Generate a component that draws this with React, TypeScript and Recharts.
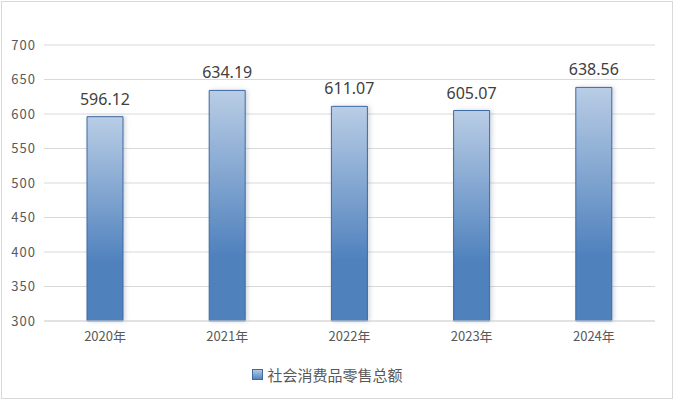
import { Bar, BarChart, CartesianGrid, LabelList, Legend, XAxis, YAxis } from "recharts";

const years = ["2020年", "2021年", "2022年", "2023年", "2024年"];
const retailSales = [596.12, 634.19, 611.07, 605.07, 638.56];
const yTicks = [300, 350, 400, 450, 500, 550, 600, 650, 700];
const seriesName = "社会消费品零售总额";

const data = years.map((year, i) => ({ year, value: retailSales[i] }));

const FONT = '"Noto Sans CJK SC", "Noto Sans", sans-serif';

function LegendContent() {
  return (
    <div
      style={{
        display: "flex",
        justifyContent: "center",
        alignItems: "center",
        fontFamily: FONT,
        fontSize: 15,
        color: "#595959",
        height: 22
      }}
    >
      <svg width={11} height={11} style={{ marginRight: 4 }}>
        <defs>
          <linearGradient id="legendFill" x1="0" y1="0" x2="0" y2="1">
            <stop offset="0%" stopColor="#b9cde5" />
            <stop offset="100%" stopColor="#4f81bd" />
          </linearGradient>
        </defs>
        <rect x={0.5} y={0.5} width={10} height={10} fill="url(#legendFill)" stroke="#3d6aa3" />
      </svg>
      <span>{seriesName}</span>
    </div>
  );
}

export default function App() {
  return (
    <div style={{ position: "absolute", left: 0, top: 0, width: 674, height: 400, background: "#fff" }}>
      <div
        style={{
          position: "absolute",
          left: 1,
          top: 1,
          width: 672,
          height: 398,
          boxSizing: "border-box",
          border: "1px solid #d9d9d9"
        }}
      />
      <BarChart
        width={674}
        height={400}
        data={data}
        margin={{ top: 45, right: 19, bottom: 15, left: 0 }}
        style={{ position: "absolute", left: 0, top: 0 }}
      >
        <defs>
          <linearGradient id="barFill" x1="0" y1="0" x2="0" y2="1">
            <stop offset="0%" stopColor="#b9cde5" />
            <stop offset="72%" stopColor="#4f81bd" />
            <stop offset="100%" stopColor="#4f81bd" />
          </linearGradient>
          <filter id="barShadow" x="-30%" y="-10%" width="160%" height="120%">
            <feDropShadow dx={2} dy={0} stdDeviation={2} floodColor="#8090a8" floodOpacity={0.35} />
          </filter>
        </defs>
        <CartesianGrid stroke="#d9d9d9" vertical={false} />
        <XAxis
          dataKey="year"
          height={42}
          tickLine={false}
          axisLine={{ stroke: "#d9d9d9" }}
          tickMargin={5}
          tick={{ fill: "#595959", fontSize: 13, fontFamily: FONT }}
        />
        <YAxis
          domain={[300, 700]}
          ticks={yTicks}
          width={44}
          tickLine={false}
          axisLine={false}
          tickMargin={2}
          tick={{ fill: "#595959", fontSize: 13, fontFamily: FONT, letterSpacing: 1 }}
        />
        <Legend verticalAlign="bottom" height={22} content={<LegendContent />} />
        <Bar
          dataKey="value"
          name={seriesName}
          barSize={36}
          fill="url(#barFill)"
          stroke="#3d6aa3"
          strokeWidth={1}
          filter="url(#barShadow)"
          isAnimationActive={false}
        >
          <LabelList
            dataKey="value"
            position="top"
            offset={12}
            formatter={(v: number) => v.toFixed(2)}
            style={{ fill: "#404040", fontSize: 16, fontFamily: '"Noto Sans", sans-serif' }}
          />
        </Bar>
      </BarChart>
    </div>
  );
}
